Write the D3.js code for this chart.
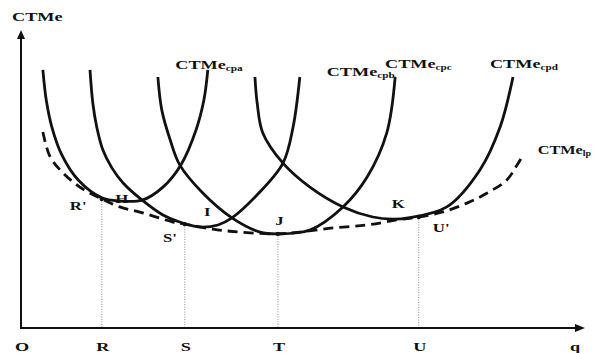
<!DOCTYPE html>
<html><head><meta charset="utf-8">
<script src="https://cdn.jsdelivr.net/npm/d3@7"></script>
<style>
html,body{margin:0;padding:0;background:#fff;}
svg{display:block;}
text{font-family:"Liberation Serif","Times New Roman",serif;font-weight:bold;fill:#111;}
</style></head>
<body><svg id="c" width="598" height="353"></svg>
<script>
// ---- data (q units 0..100, cost units 0..100) ----
const curveA = [[3.9,87.2],[4.5,77.0],[5.5,67.9],[7.3,58.4],[10.2,50.0],[14.4,44.0],[17.6,42.9],[21.6,43.2],[25.3,47.6],[28.5,55.1],[31.2,66.9],[32.6,77.0],[33.3,87.2]];
const curveB = [[12.3,87.2],[12.8,76.0],[13.5,67.9],[14.6,60.1],[16.2,54.1],[18.2,49.0],[21.6,43.2],[25.3,38.2],[28.3,35.8],[31.9,34.1],[35.1,34.8],[37.6,37.2],[42.1,45.0],[46.7,55.7],[48.5,67.9],[49.7,84.8]];
const curveC = [[24.4,84.8],[25.1,73.6],[26.6,63.5],[28.3,55.1],[32.4,45.6],[37.6,37.2],[42.6,32.4],[45.8,31.8],[51.5,33.1],[57.4,40.9],[61.7,51.0],[65.2,65.9],[66.7,84.8]];
const curveD = [[41.7,84.8],[42.1,76.0],[43.1,65.9],[46.7,55.7],[51.5,47.6],[57.4,40.9],[62.7,37.5],[66.3,36.8],[69.0,37.2],[75.9,40.9],[81.8,53.4],[85.4,67.9],[87.7,84.8]];
const envelope = [[3.9,66.2],[5.2,57.8],[7.5,52.4],[10.5,47.6],[14.4,43.6],[17.6,40.9],[21.7,38.9],[27.1,35.8],[29.2,35.1],[34.2,33.4],[39.0,32.4],[45.8,31.8],[49.7,32.4],[55.6,33.8],[61.7,34.8],[67.0,36.5],[70.9,37.5],[75.2,39.2],[79.5,42.2],[83.1,45.6],[86.6,50.0],[88.2,54.4],[89.5,58.4]];

const tickLabels = ["O","R","S","T","U","q"];
const tickValues = [0,14.4,29.2,45.8,70.9,98.6];
const tangentQ = [14.4,29.2,45.8,70.9];
const tangentC = [43.6,35.1,31.8,37.5];

const curveNames = ["cpa","cpb","cpc","cpd","lp"];
const curveLabelQ = [27.5,54.5,64.9,83.6,92.1];
const curveLabelC = [87.5,85.1,87.8,87.8,58.8];

const pointLabels = ["R'","H","I","S'","J","K","U'"];
const pointLabelQ = [8.7,16.8,32.6,25.3,45.3,66.1,73.4];
const pointLabelC = [39.9,42.3,37.8,29.1,34.8,40.5,32.4];

const yTitle = "CTMe";

// ---- drawing ----
const svg = d3.select("#c");
const x = d3.scaleLinear().domain([0,100]).range([21,582]);
const y = d3.scaleLinear().domain([0,100]).range([328,32]);
const SX = 1.4;

const line = d3.line().x(d=>x(d[0])).y(d=>y(d[1])).curve(d3.curveCatmullRom.alpha(0.5));

// vertical dotted guides
svg.append("g").selectAll("line").data(tangentQ).join("line")
  .attr("x1",d=>x(d)).attr("x2",d=>x(d))
  .attr("y1",(d,i)=>y(tangentC[i])).attr("y2",y(0))
  .attr("stroke","#888").attr("stroke-width",1).attr("stroke-dasharray","1,1.5");

// envelope
svg.append("path").attr("d",line(envelope)).attr("fill","none")
  .attr("stroke","#111").attr("stroke-width",2.8).attr("stroke-dasharray","10,6");

// short-run curves
[curveA,curveB,curveC,curveD].forEach(c=>{
  svg.append("path").attr("d",line(c)).attr("fill","none")
    .attr("stroke","#111").attr("stroke-width",2.8).attr("stroke-linecap","butt");
});

// tangent dots
svg.append("g").selectAll("circle").data(tangentQ).join("circle")
  .attr("cx",d=>x(d)).attr("cy",(d,i)=>y(tangentC[i])).attr("r",2.2).attr("fill","#111");

// axes
const xAxis = d3.axisBottom(x).tickValues(tickValues).tickFormat((d,i)=>tickLabels[i]).tickSize(0);
const gx = svg.append("g").attr("transform",`translate(0,${y(0)})`).call(xAxis);
gx.select(".domain").remove();
gx.selectAll("text").attr("y",23).attr("dy",0).attr("font-size",13)
  .attr("transform",`scale(${SX},1)`).attr("x",0)
  .style("font-family","Liberation Serif, serif").style("font-weight","bold").attr("fill","#111");
gx.selectAll(".tick").attr("transform",(d)=>`translate(${x(d)+1},0)`);

svg.append("line").attr("x1",x(0)).attr("x2",x(100)-4).attr("y1",y(0)).attr("y2",y(0))
  .attr("stroke","#111").attr("stroke-width",2);
svg.append("line").attr("x1",x(0)).attr("x2",x(0)).attr("y1",y(0)+1).attr("y2",y(100)+4)
  .attr("stroke","#111").attr("stroke-width",2);
// arrowheads
svg.append("path").attr("d",`M${x(100)+3},${y(0)} l-10,-4 l0,8 z`).attr("fill","#111");
svg.append("path").attr("d",`M${x(0)},${y(100)-2} l-4,9 l8,0 z`).attr("fill","#111");

// axis title
svg.append("text").attr("transform",`translate(${x(0)-9},21) scale(${SX},1)`)
  .attr("font-size",13).text(yTitle);

// curve labels
curveNames.forEach((n,i)=>{
  const sx = n==="lp" ? 1.25 : SX;
  const t = svg.append("text").attr("transform",`translate(${x(curveLabelQ[i])},${y(curveLabelC[i])}) scale(${sx},1)`)
    .attr("font-size",13);
  t.append("tspan").text("CTMe");
  t.append("tspan").attr("font-size",8).attr("dy",2).text(n);
});

// point labels
pointLabels.forEach((p,i)=>{
  svg.append("text").attr("transform",`translate(${x(pointLabelQ[i])},${y(pointLabelC[i])}) scale(${SX},1)`)
    .attr("font-size",12).text(p);
});
</script></body></html>
